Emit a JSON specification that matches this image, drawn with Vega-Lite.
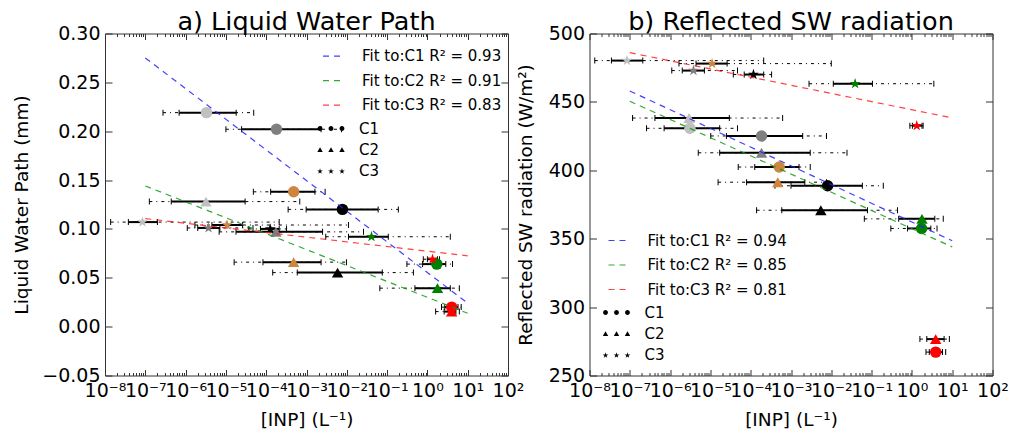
{
  "$schema": "https://vega.github.io/schema/vega-lite/v6.json",
  "padding": {"left": 11, "top": 8.5, "right": 5, "bottom": 5},
  "config": {
    "font": "DejaVu Sans",
    "view": {"stroke": "#333333", "strokeWidth": 1},
    "axis": {"grid": false, "domain": false, "labelFont": "DejaVu Sans", "labelFontSize": 19, "labelColor": "black", "titleFont": "DejaVu Sans", "titleFontSize": 18.5, "titleFontWeight": "normal", "titleColor": "black", "tickColor": "#333333", "labelOverlap": false, "labelFlush": false, "labelBound": false},
    "title": {"font": "DejaVu Sans", "fontSize": 25.5, "fontWeight": "normal", "color": "black", "anchor": "middle", "offset": -10.5},
    "legend": {"labelFont": "DejaVu Sans", "labelFontSize": 15, "labelColor": "black", "padding": 0}
  },
  "datasets": {
    "lwp_pts": [
      {"cat": "C1", "run": "R1", "x": 3.3e-6, "y": 0.219, "slo": 6.9e-7, "shi": 1.8e-5, "dlo": 2.75e-7, "dhi": 4.9e-5},
      {"cat": "C1", "run": "R2", "x": 1.8e-4, "y": 0.202, "slo": 2.45e-5, "shi": 2.3e-3, "dlo": 1.0e-5, "dhi": 7.4e-3},
      {"cat": "C1", "run": "R3", "x": 4.8e-4, "y": 0.138, "slo": 1.29e-4, "shi": 1.62e-3, "dlo": 4.8e-5, "dhi": 2.9e-3},
      {"cat": "C1", "run": "R4", "x": 7.8e-3, "y": 0.120, "slo": 9.8e-4, "shi": 6.0e-2, "dlo": 3.5e-4, "dhi": 0.19},
      {"cat": "C1", "run": "R5", "x": 1.71, "y": 0.064, "slo": 0.76, "shi": 2.86, "dlo": 0.31, "dhi": 4.2},
      {"cat": "C1", "run": "R6", "x": 4.0, "y": 0.020, "slo": 2.7, "shi": 5.75, "dlo": 2.24, "dhi": 6.9},
      {"cat": "C2", "run": "R1", "x": 3.2e-6, "y": 0.128, "slo": 4.4e-7, "shi": 3.0e-5, "dlo": 1.26e-7, "dhi": 6.8e-4},
      {"cat": "C2", "run": "R2", "x": 1.74e-4, "y": 0.097, "slo": 1.78e-5, "shi": 2.5e-3, "dlo": 6.8e-6, "dhi": 2.6e-2},
      {"cat": "C2", "run": "R3", "x": 4.8e-4, "y": 0.066, "slo": 8.3e-5, "shi": 2.3e-3, "dlo": 1.6e-5, "dhi": 9.8e-3},
      {"cat": "C2", "run": "R4", "x": 5.9e-3, "y": 0.0553, "slo": 5.9e-4, "shi": 7.6e-2, "dlo": 1.45e-4, "dhi": 0.45},
      {"cat": "C2", "run": "R5", "x": 1.78, "y": 0.0394, "slo": 0.49, "shi": 3.7, "dlo": 0.066, "dhi": 6.2},
      {"cat": "C2", "run": "R6", "x": 4.0, "y": 0.0154, "slo": 2.6, "shi": 5.1, "dlo": 1.6, "dhi": 6.2},
      {"cat": "C3", "run": "R1", "x": 8.5e-8, "y": 0.107, "slo": 3.8e-8, "shi": 2.0e-7, "dlo": 1.38e-8, "dhi": 2.1e-4},
      {"cat": "C3", "run": "R2", "x": 3.7e-6, "y": 0.101, "slo": 2.0e-6, "shi": 7.1e-6, "dlo": 1.1e-6, "dhi": 4.7e-5},
      {"cat": "C3", "run": "R3", "x": 1.07e-5, "y": 0.104, "slo": 4.5e-6, "shi": 2.6e-5, "dlo": 1.7e-6, "dhi": 1.1e-2},
      {"cat": "C3", "run": "R4", "x": 1.26e-4, "y": 0.100, "slo": 7.2e-5, "shi": 2.1e-4, "dlo": 3.7e-5, "dhi": 3.2e-4},
      {"cat": "C3", "run": "R5", "x": 4.1e-2, "y": 0.092, "slo": 1.1e-2, "shi": 0.107, "dlo": 3.0e-3, "dhi": 3.7},
      {"cat": "C3", "run": "R6", "x": 1.34, "y": 0.069, "slo": 1.0, "shi": 1.78, "dlo": 0.79, "dhi": 2.0}
    ],
    "lwp_fit": [
      {"fit": "Fit to:C1 R² = 0.93", "x": 1e-7, "y": 0.275},
      {"fit": "Fit to:C1 R² = 0.93", "x": 10, "y": 0.024},
      {"fit": "Fit to:C2 R² = 0.91", "x": 1e-7, "y": 0.144},
      {"fit": "Fit to:C2 R² = 0.91", "x": 10, "y": 0.0137},
      {"fit": "Fit to:C3 R² = 0.83", "x": 1e-7, "y": 0.1106},
      {"fit": "Fit to:C3 R² = 0.83", "x": 10, "y": 0.0725}
    ],
    "sw_pts": [
      {"cat": "C1", "run": "R1", "x": 3.1e-6, "y": 430.7, "slo": 7.1e-7, "shi": 1.7e-5, "dlo": 2.6e-7, "dhi": 4.7e-5},
      {"cat": "C1", "run": "R2", "x": 1.86e-4, "y": 425.1, "slo": 2.5e-5, "shi": 1.95e-3, "dlo": 1.02e-5, "dhi": 7.6e-3},
      {"cat": "C1", "run": "R3", "x": 5.1e-4, "y": 402.4, "slo": 1.26e-4, "shi": 1.58e-3, "dlo": 4.9e-5, "dhi": 3.0e-3},
      {"cat": "C1", "run": "R4", "x": 8.1e-3, "y": 388.7, "slo": 1.0e-3, "shi": 5.9e-2, "dlo": 4.0e-4, "dhi": 0.195},
      {"cat": "C1", "run": "R5", "x": 1.74, "y": 357.5, "slo": 0.78, "shi": 2.95, "dlo": 0.30, "dhi": 4.2},
      {"cat": "C1", "run": "R6", "x": 3.9, "y": 267.1, "slo": 2.7, "shi": 5.75, "dlo": 2.24, "dhi": 6.9},
      {"cat": "C2", "run": "R1", "x": 2.95e-6, "y": 438.2, "slo": 4.2e-7, "shi": 2.95e-5, "dlo": 1.17e-7, "dhi": 6.2e-4},
      {"cat": "C2", "run": "R2", "x": 1.86e-4, "y": 412.8, "slo": 1.7e-5, "shi": 3.0e-3, "dlo": 5.0e-6, "dhi": 2.45e-2},
      {"cat": "C2", "run": "R3", "x": 4.7e-4, "y": 391.3, "slo": 7.9e-5, "shi": 2.2e-3, "dlo": 1.55e-5, "dhi": 7.6e-3},
      {"cat": "C2", "run": "R4", "x": 5.5e-3, "y": 370.8, "slo": 5.9e-4, "shi": 7.9e-2, "dlo": 1.4e-4, "dhi": 0.44},
      {"cat": "C2", "run": "R5", "x": 1.78, "y": 364.5, "slo": 0.47, "shi": 3.7, "dlo": 0.066, "dhi": 6.0},
      {"cat": "C2", "run": "R6", "x": 3.9, "y": 276.6, "slo": 2.34, "shi": 6.3, "dlo": 1.58, "dhi": 8.5},
      {"cat": "C3", "run": "R1", "x": 8.5e-8, "y": 480.2, "slo": 3.5e-8, "shi": 2.1e-7, "dlo": 1.35e-8, "dhi": 2.1e-4},
      {"cat": "C3", "run": "R2", "x": 3.8e-6, "y": 472.9, "slo": 2.0e-6, "shi": 7.1e-6, "dlo": 1.1e-6, "dhi": 4.7e-5},
      {"cat": "C3", "run": "R3", "x": 1.1e-5, "y": 478.0, "slo": 4.4e-6, "shi": 2.6e-5, "dlo": 1.66e-6, "dhi": 1.0e-2},
      {"cat": "C3", "run": "R4", "x": 1.17e-4, "y": 470.0, "slo": 6.9e-5, "shi": 2.1e-4, "dlo": 3.7e-5, "dhi": 3.3e-4},
      {"cat": "C3", "run": "R5", "x": 3.9e-2, "y": 463.3, "slo": 1.12e-2, "shi": 0.105, "dlo": 2.8e-3, "dhi": 3.5},
      {"cat": "C3", "run": "R6", "x": 1.32, "y": 432.6, "slo": 1.03, "shi": 1.78, "dlo": 0.89, "dhi": 1.9}
    ],
    "sw_fit": [
      {"fit": "Fit to:C1 R² = 0.94", "x": 1e-7, "y": 458.0},
      {"fit": "Fit to:C1 R² = 0.94", "x": 10, "y": 348.5},
      {"fit": "Fit to:C2 R² = 0.85", "x": 1e-7, "y": 450.5},
      {"fit": "Fit to:C2 R² = 0.85", "x": 10, "y": 344.0},
      {"fit": "Fit to:C3 R² = 0.81", "x": 1e-7, "y": 486.0},
      {"fit": "Fit to:C3 R² = 0.81", "x": 10, "y": 438.3}
    ]
  },
  "hconcat": [
    {
      "width": 403,
      "height": 342,
      "title": "a) Liquid Water Path",
      "layer": [
        {
          "data": {"name": "lwp_pts"},
          "mark": {"type": "rule", "color": "black", "strokeWidth": 1, "strokeDash": [3, 4, 1, 4]},
          "encoding": {
            "x": {"field": "dlo", "type": "quantitative", "scale": {"type": "log", "domain": [1e-8, 100], "nice": false},
              "axis": {"orient": "bottom", "title": "[INP] (L⁻¹)", "titlePadding": 7, "labelPadding": 12,
                "values": [1e-8,2e-8,3e-8,4e-8,5e-8,6e-8,7e-8,8e-8,9e-8,1e-7,2e-7,3e-7,4e-7,5e-7,6e-7,7e-7,8e-7,9e-7,1e-6,2e-6,3e-6,4e-6,5e-6,6e-6,7e-6,8e-6,9e-6,1e-5,2e-5,3e-5,4e-5,5e-5,6e-5,7e-5,8e-5,9e-5,1e-4,2e-4,3e-4,4e-4,5e-4,6e-4,7e-4,8e-4,9e-4,0.001,0.002,0.003,0.004,0.005,0.006,0.007,0.008,0.009,0.01,0.02,0.03,0.04,0.05,0.06,0.07,0.08,0.09,0.1,0.2,0.3,0.4,0.5,0.6,0.7,0.8,0.9,1,2,3,4,5,6,7,8,9,10,20,30,40,50,60,70,80,90,100],
                "tickSize": {"condition": {"test": "abs(log(datum.value)/LN10 - round(log(datum.value)/LN10)) < 1e-6", "value": -6}, "value": -3},
                "labelExpr": "abs(log(datum.value)/LN10 - round(log(datum.value)/LN10)) < 1e-6 ? '10' + replace(replace(replace(replace(replace(replace(replace(replace(replace(replace(replace('' + round(log(datum.value)/LN10), '-', '⁻'), '0', '⁰'), '1', '¹'), '2', '²'), '3', '³'), '4', '⁴'), '5', '⁵'), '6', '⁶'), '7', '⁷'), '8', '⁸'), '9', '⁹') : ''"}},
            "x2": {"field": "dhi"},
            "y": {"field": "y", "type": "quantitative", "scale": {"domain": [-0.05, 0.3], "nice": false, "zero": false},
              "axis": {"orient": "left", "title": "Liquid Water Path (mm)", "values": [-0.05, 0, 0.05, 0.1, 0.15, 0.2, 0.25, 0.3], "format": ".2f", "tickSize": -7, "labelPadding": 12, "titlePadding": 10.5}}
          }
        },
        {
          "data": {"name": "lwp_pts"},
          "transform": [{"fold": ["dlo", "dhi"], "as": ["end", "capx"]}],
          "mark": {"type": "tick", "orient": "vertical", "color": "black", "opacity": 1, "size": 6, "thickness": 1},
          "encoding": {
            "x": {"field": "capx", "type": "quantitative", "scale": {"type": "log", "domain": [1e-8, 100], "nice": false}, "axis": null},
            "y": {"field": "y", "type": "quantitative", "scale": {"domain": [-0.05, 0.3], "nice": false, "zero": false}, "axis": null}
          }
        },
        {
          "data": {"name": "lwp_pts"},
          "mark": {"type": "rule", "color": "black", "strokeWidth": 2},
          "encoding": {
            "x": {"field": "slo", "type": "quantitative", "scale": {"type": "log", "domain": [1e-8, 100], "nice": false}, "axis": null},
            "x2": {"field": "shi"},
            "y": {"field": "y", "type": "quantitative", "scale": {"domain": [-0.05, 0.3], "nice": false, "zero": false}, "axis": null}
          }
        },
        {
          "data": {"name": "lwp_pts"},
          "transform": [{"fold": ["slo", "shi"], "as": ["end", "capx"]}],
          "mark": {"type": "tick", "orient": "vertical", "color": "black", "opacity": 1, "size": 6, "thickness": 1},
          "encoding": {
            "x": {"field": "capx", "type": "quantitative", "scale": {"type": "log", "domain": [1e-8, 100], "nice": false}, "axis": null},
            "y": {"field": "y", "type": "quantitative", "scale": {"domain": [-0.05, 0.3], "nice": false, "zero": false}, "axis": null}
          }
        },
        {
          "data": {"name": "lwp_pts"},
          "mark": {"type": "point", "filled": true, "opacity": 1, "size": 130, "strokeWidth": 0},
          "encoding": {
            "x": {"field": "x", "type": "quantitative", "scale": {"type": "log", "domain": [1e-8, 100], "nice": false}, "axis": null},
            "y": {"field": "y", "type": "quantitative", "scale": {"domain": [-0.05, 0.3], "nice": false, "zero": false}, "axis": null},
            "fill": {"field": "run", "type": "nominal", "scale": {"domain": ["R1", "R2", "R3", "R4", "R5", "R6"], "range": ["#c0c0c0", "#808080", "#cd853f", "#000000", "#008000", "#ff0000"]}, "legend": null},
            "shape": {"field": "cat", "type": "nominal",
              "scale": {"domain": ["C1", "C2", "C3"], "range": ["circle", "triangle-up", "M0,-1L0.2245,-0.309L0.951,-0.309L0.363,0.118L0.588,0.809L0,0.382L-0.588,0.809L-0.363,0.118L-0.951,-0.309L-0.2245,-0.309Z"]},
              "legend": null}
          }
        },
        {
          "data": {"name": "lwp_pts"},
          "mark": {"type": "point", "filled": true, "opacity": 0, "size": 324, "color": "black", "strokeWidth": 0},
          "encoding": {
            "x": {"field": "x", "type": "quantitative", "scale": {"type": "log", "domain": [1e-8, 100], "nice": false}, "axis": null},
            "y": {"field": "y", "type": "quantitative", "scale": {"domain": [-0.05, 0.3], "nice": false, "zero": false}, "axis": null},
            "shape": {"field": "cat", "type": "nominal",
              "scale": {"domain": ["C1", "C2", "C3"], "range": [
                "M-1.49,0a0.27,0.27 0 1,0 0.54,0a0.27,0.27 0 1,0 -0.54,0Z M-0.27,0a0.27,0.27 0 1,0 0.54,0a0.27,0.27 0 1,0 -0.54,0Z M0.95,0a0.27,0.27 0 1,0 0.54,0a0.27,0.27 0 1,0 -0.54,0Z",
                "M-1.22,-0.3L-0.92,0.24L-1.52,0.24Z M0,-0.3L0.3,0.24L-0.3,0.24Z M1.22,-0.3L1.52,0.24L0.92,0.24Z",
                "M-1.22,-0.33L-1.146,-0.102L-0.906,-0.102L-1.1,0.039L-1.026,0.267L-1.22,0.126L-1.414,0.267L-1.34,0.039L-1.534,-0.102L-1.294,-0.102Z M0,-0.33L0.074,-0.102L0.314,-0.102L0.12,0.039L0.194,0.267L0,0.126L-0.194,0.267L-0.12,0.039L-0.314,-0.102L-0.074,-0.102Z M1.22,-0.33L1.294,-0.102L1.534,-0.102L1.34,0.039L1.414,0.267L1.22,0.126L1.026,0.267L1.1,0.039L0.906,-0.102L1.146,-0.102Z"]},
              "legend": {"title": null, "orient": "none", "legendX": 217, "legendY": 86, "symbolSize": 324, "symbolOpacity": 1, "symbolFillColor": "black", "symbolStrokeWidth": 0, "labelOffset": 19, "rowPadding": 4.4}}
          }
        },
        {
          "data": {"name": "lwp_fit"},
          "mark": {"type": "line", "strokeDash": [6, 5], "strokeWidth": 1.2, "opacity": 0.85},
          "encoding": {
            "x": {"field": "x", "type": "quantitative", "scale": {"type": "log", "domain": [1e-8, 100], "nice": false},
              "axis": {"orient": "top", "labels": false, "title": null,
                "values": [1e-8,2e-8,3e-8,4e-8,5e-8,6e-8,7e-8,8e-8,9e-8,1e-7,2e-7,3e-7,4e-7,5e-7,6e-7,7e-7,8e-7,9e-7,1e-6,2e-6,3e-6,4e-6,5e-6,6e-6,7e-6,8e-6,9e-6,1e-5,2e-5,3e-5,4e-5,5e-5,6e-5,7e-5,8e-5,9e-5,1e-4,2e-4,3e-4,4e-4,5e-4,6e-4,7e-4,8e-4,9e-4,0.001,0.002,0.003,0.004,0.005,0.006,0.007,0.008,0.009,0.01,0.02,0.03,0.04,0.05,0.06,0.07,0.08,0.09,0.1,0.2,0.3,0.4,0.5,0.6,0.7,0.8,0.9,1,2,3,4,5,6,7,8,9,10,20,30,40,50,60,70,80,90,100],
                "tickSize": {"condition": {"test": "abs(log(datum.value)/LN10 - round(log(datum.value)/LN10)) < 1e-6", "value": -6}, "value": -3}}},
            "y": {"field": "y", "type": "quantitative", "scale": {"domain": [-0.05, 0.3], "nice": false, "zero": false},
              "axis": {"orient": "right", "labels": false, "title": null, "values": [-0.05, 0, 0.05, 0.1, 0.15, 0.2, 0.25, 0.3], "tickSize": -7}},
            "stroke": {"field": "fit", "type": "nominal",
              "scale": {"domain": ["Fit to:C1 R² = 0.93", "Fit to:C2 R² = 0.91", "Fit to:C3 R² = 0.83"], "range": ["#2020ff", "#109a10", "#ff2020"]},
              "legend": {"title": null, "orient": "none", "legendX": 217, "legendY": 12.7, "symbolType": "stroke", "symbolSize": 324, "symbolDash": [6, 5], "symbolStrokeWidth": 1.2, "labelOffset": 20, "rowPadding": 6.5}}
          }
        }
      ],
      "resolve": {"axis": {"x": "independent", "y": "independent"}, "scale": {"shape": "independent"}}
    },
    {
      "width": 403,
      "height": 342,
      "title": "b) Reflected SW radiation",
      "layer": [
        {
          "data": {"name": "sw_pts"},
          "mark": {"type": "rule", "color": "black", "strokeWidth": 1, "strokeDash": [3, 4, 1, 4]},
          "encoding": {
            "x": {"field": "dlo", "type": "quantitative", "scale": {"type": "log", "domain": [1e-8, 100], "nice": false},
              "axis": {"orient": "bottom", "title": "[INP] (L⁻¹)", "titlePadding": 7, "labelPadding": 12,
                "values": [1e-8,2e-8,3e-8,4e-8,5e-8,6e-8,7e-8,8e-8,9e-8,1e-7,2e-7,3e-7,4e-7,5e-7,6e-7,7e-7,8e-7,9e-7,1e-6,2e-6,3e-6,4e-6,5e-6,6e-6,7e-6,8e-6,9e-6,1e-5,2e-5,3e-5,4e-5,5e-5,6e-5,7e-5,8e-5,9e-5,1e-4,2e-4,3e-4,4e-4,5e-4,6e-4,7e-4,8e-4,9e-4,0.001,0.002,0.003,0.004,0.005,0.006,0.007,0.008,0.009,0.01,0.02,0.03,0.04,0.05,0.06,0.07,0.08,0.09,0.1,0.2,0.3,0.4,0.5,0.6,0.7,0.8,0.9,1,2,3,4,5,6,7,8,9,10,20,30,40,50,60,70,80,90,100],
                "tickSize": {"condition": {"test": "abs(log(datum.value)/LN10 - round(log(datum.value)/LN10)) < 1e-6", "value": -6}, "value": -3},
                "labelExpr": "abs(log(datum.value)/LN10 - round(log(datum.value)/LN10)) < 1e-6 ? '10' + replace(replace(replace(replace(replace(replace(replace(replace(replace(replace(replace('' + round(log(datum.value)/LN10), '-', '⁻'), '0', '⁰'), '1', '¹'), '2', '²'), '3', '³'), '4', '⁴'), '5', '⁵'), '6', '⁶'), '7', '⁷'), '8', '⁸'), '9', '⁹') : ''"}},
            "x2": {"field": "dhi"},
            "y": {"field": "y", "type": "quantitative", "scale": {"domain": [250, 500], "nice": false, "zero": false},
              "axis": {"orient": "left", "title": "Reflected SW radiation (W/m²)", "values": [250, 300, 350, 400, 450, 500], "tickSize": -7, "labelPadding": 12, "titlePadding": 13}}
          }
        },
        {
          "data": {"name": "sw_pts"},
          "transform": [{"fold": ["dlo", "dhi"], "as": ["end", "capx"]}],
          "mark": {"type": "tick", "orient": "vertical", "color": "black", "opacity": 1, "size": 6, "thickness": 1},
          "encoding": {
            "x": {"field": "capx", "type": "quantitative", "scale": {"type": "log", "domain": [1e-8, 100], "nice": false}, "axis": null},
            "y": {"field": "y", "type": "quantitative", "scale": {"domain": [250, 500], "nice": false, "zero": false}, "axis": null}
          }
        },
        {
          "data": {"name": "sw_pts"},
          "mark": {"type": "rule", "color": "black", "strokeWidth": 2},
          "encoding": {
            "x": {"field": "slo", "type": "quantitative", "scale": {"type": "log", "domain": [1e-8, 100], "nice": false}, "axis": null},
            "x2": {"field": "shi"},
            "y": {"field": "y", "type": "quantitative", "scale": {"domain": [250, 500], "nice": false, "zero": false}, "axis": null}
          }
        },
        {
          "data": {"name": "sw_pts"},
          "transform": [{"fold": ["slo", "shi"], "as": ["end", "capx"]}],
          "mark": {"type": "tick", "orient": "vertical", "color": "black", "opacity": 1, "size": 6, "thickness": 1},
          "encoding": {
            "x": {"field": "capx", "type": "quantitative", "scale": {"type": "log", "domain": [1e-8, 100], "nice": false}, "axis": null},
            "y": {"field": "y", "type": "quantitative", "scale": {"domain": [250, 500], "nice": false, "zero": false}, "axis": null}
          }
        },
        {
          "data": {"name": "sw_pts"},
          "mark": {"type": "point", "filled": true, "opacity": 1, "size": 130, "strokeWidth": 0},
          "encoding": {
            "x": {"field": "x", "type": "quantitative", "scale": {"type": "log", "domain": [1e-8, 100], "nice": false}, "axis": null},
            "y": {"field": "y", "type": "quantitative", "scale": {"domain": [250, 500], "nice": false, "zero": false}, "axis": null},
            "fill": {"field": "run", "type": "nominal", "scale": {"domain": ["R1", "R2", "R3", "R4", "R5", "R6"], "range": ["#c0c0c0", "#808080", "#cd853f", "#000000", "#008000", "#ff0000"]}, "legend": null},
            "shape": {"field": "cat", "type": "nominal",
              "scale": {"domain": ["C1", "C2", "C3"], "range": ["circle", "triangle-up", "M0,-1L0.2245,-0.309L0.951,-0.309L0.363,0.118L0.588,0.809L0,0.382L-0.588,0.809L-0.363,0.118L-0.951,-0.309L-0.2245,-0.309Z"]},
              "legend": null}
          }
        },
        {
          "data": {"name": "sw_pts"},
          "mark": {"type": "point", "filled": true, "opacity": 0, "size": 324, "color": "black", "strokeWidth": 0},
          "encoding": {
            "x": {"field": "x", "type": "quantitative", "scale": {"type": "log", "domain": [1e-8, 100], "nice": false}, "axis": null},
            "y": {"field": "y", "type": "quantitative", "scale": {"domain": [250, 500], "nice": false, "zero": false}, "axis": null},
            "shape": {"field": "cat", "type": "nominal",
              "scale": {"domain": ["C1", "C2", "C3"], "range": [
                "M-1.49,0a0.27,0.27 0 1,0 0.54,0a0.27,0.27 0 1,0 -0.54,0Z M-0.27,0a0.27,0.27 0 1,0 0.54,0a0.27,0.27 0 1,0 -0.54,0Z M0.95,0a0.27,0.27 0 1,0 0.54,0a0.27,0.27 0 1,0 -0.54,0Z",
                "M-1.22,-0.3L-0.92,0.24L-1.52,0.24Z M0,-0.3L0.3,0.24L-0.3,0.24Z M1.22,-0.3L1.52,0.24L0.92,0.24Z",
                "M-1.22,-0.33L-1.146,-0.102L-0.906,-0.102L-1.1,0.039L-1.026,0.267L-1.22,0.126L-1.414,0.267L-1.34,0.039L-1.534,-0.102L-1.294,-0.102Z M0,-0.33L0.074,-0.102L0.314,-0.102L0.12,0.039L0.194,0.267L0,0.126L-0.194,0.267L-0.12,0.039L-0.314,-0.102L-0.074,-0.102Z M1.22,-0.33L1.294,-0.102L1.534,-0.102L1.34,0.039L1.414,0.267L1.22,0.126L1.026,0.267L1.1,0.039L0.906,-0.102L1.146,-0.102Z"]},
              "legend": {"title": null, "orient": "none", "legendX": 18, "legendY": 270, "symbolSize": 324, "symbolOpacity": 1, "symbolFillColor": "black", "symbolStrokeWidth": 0, "labelOffset": 19, "rowPadding": 4.4}}
          }
        },
        {
          "data": {"name": "sw_fit"},
          "mark": {"type": "line", "strokeDash": [6, 5], "strokeWidth": 1.2, "opacity": 0.85},
          "encoding": {
            "x": {"field": "x", "type": "quantitative", "scale": {"type": "log", "domain": [1e-8, 100], "nice": false},
              "axis": {"orient": "top", "labels": false, "title": null,
                "values": [1e-8,2e-8,3e-8,4e-8,5e-8,6e-8,7e-8,8e-8,9e-8,1e-7,2e-7,3e-7,4e-7,5e-7,6e-7,7e-7,8e-7,9e-7,1e-6,2e-6,3e-6,4e-6,5e-6,6e-6,7e-6,8e-6,9e-6,1e-5,2e-5,3e-5,4e-5,5e-5,6e-5,7e-5,8e-5,9e-5,1e-4,2e-4,3e-4,4e-4,5e-4,6e-4,7e-4,8e-4,9e-4,0.001,0.002,0.003,0.004,0.005,0.006,0.007,0.008,0.009,0.01,0.02,0.03,0.04,0.05,0.06,0.07,0.08,0.09,0.1,0.2,0.3,0.4,0.5,0.6,0.7,0.8,0.9,1,2,3,4,5,6,7,8,9,10,20,30,40,50,60,70,80,90,100],
                "tickSize": {"condition": {"test": "abs(log(datum.value)/LN10 - round(log(datum.value)/LN10)) < 1e-6", "value": -6}, "value": -3}}},
            "y": {"field": "y", "type": "quantitative", "scale": {"domain": [250, 500], "nice": false, "zero": false},
              "axis": {"orient": "right", "labels": false, "title": null, "values": [250, 300, 350, 400, 450, 500], "tickSize": -7}},
            "stroke": {"field": "fit", "type": "nominal",
              "scale": {"domain": ["Fit to:C1 R² = 0.94", "Fit to:C2 R² = 0.85", "Fit to:C3 R² = 0.81"], "range": ["#2020ff", "#109a10", "#ff2020"]},
              "legend": {"title": null, "orient": "none", "legendX": 18, "legendY": 197, "symbolType": "stroke", "symbolSize": 324, "symbolDash": [6, 5], "symbolStrokeWidth": 1.2, "labelOffset": 20, "rowPadding": 6.5}}
          }
        }
      ],
      "resolve": {"axis": {"x": "independent", "y": "independent"}, "scale": {"shape": "independent"}}
    }
  ],
  "spacing": 81.5,
  "bounds": "flush",
  "resolve": {"scale": {"fill": "independent", "stroke": "independent", "shape": "independent"}}
}
